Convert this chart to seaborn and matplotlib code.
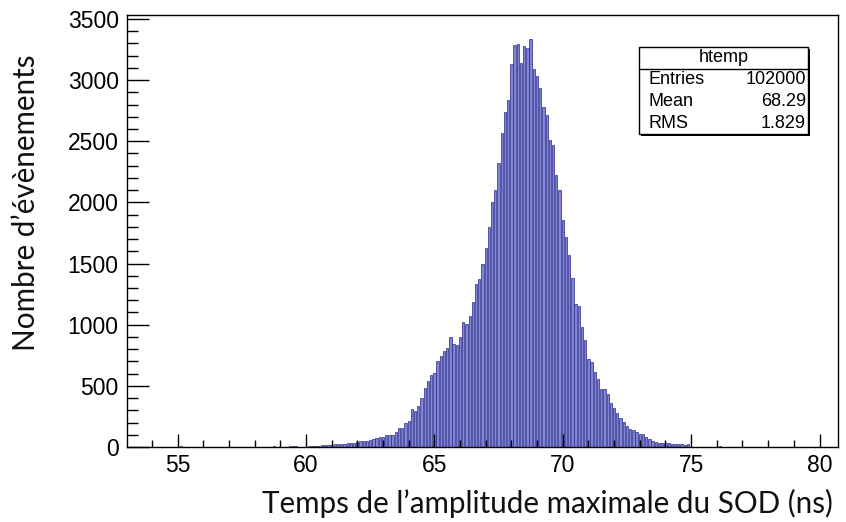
import numpy as np
import pandas as pd
import seaborn as sns
import matplotlib.pyplot as plt
from matplotlib.patches import Rectangle
from matplotlib.ticker import MultipleLocator

sns.set_theme(style="ticks")
plt.rcParams['font.family'] = ['Liberation Sans', 'DejaVu Sans']
plt.rcParams['text.color'] = 'black'
plt.rcParams['xtick.color'] = 'black'
plt.rcParams['ytick.color'] = 'black'

# ---- data ----
bin_width = 0.125
first_center = 58.75
counts = [
    8, 0, 0, 0, 0, 8, 8, 8, 0, 0, 0, 10, 12, 12, 12, 14, 14, 16, 18,
    25, 26, 27, 28, 30, 32, 36, 42, 46, 48, 52, 55, 62, 72, 78, 85, 98, 98, 98,
    125, 157, 157, 193, 212, 307, 293, 334, 401, 483, 537, 591, 608, 700, 743,
    784, 808, 898, 844, 838, 898, 1020, 1006, 1074, 1183, 1332, 1373, 1500,
    1625, 1801, 2005, 2100, 2322,
    2566, 2737, 2837, 3131, 3285, 3293, 3143, 3280, 3266, 3334, 3090, 3035,
    2937, 2783, 2715, 2512, 2471, 2227, 2100, 1855, 1717, 1568, 1378, 1169,
    1155, 979, 871, 722, 694, 613, 559, 478, 472, 437, 361, 315,
    280, 240, 205, 175, 145, 138, 125, 105, 110, 84, 63, 51, 40, 35, 35, 33,
    30, 28, 25, 22, 24, 20, 22,
]
outlier_x = [55.125, 76.125]
outlier_n = [8, 8]

x_major = [55, 60, 65, 70, 75, 80]
y_major = [0, 500, 1000, 1500, 2000, 2500, 3000, 3500]

stats_title = "htemp"
stats_names = ["Entries", "Mean", "RMS"]
stats_values = ["102000", "68.29", "1.829"]

xlabel = "Temps de l’amplitude maximale du SOD (ns)"
ylabel = "Nombre d’évènements"

# ---- build table ----
centers = list(first_center + bin_width * np.arange(len(counts))) + outlier_x
weights = list(counts) + outlier_n
df = pd.DataFrame({"t": centers, "n": weights})

W, H = 846, 522
fig = plt.figure(figsize=(W / 100, H / 100), dpi=100)
ax = fig.add_axes([127 / W, 1 - 447 / H, (838 - 127) / W, (447 - 15) / H])

sns.histplot(data=df, x="t", weights="n", binwidth=bin_width,
             binrange=(52.9375, 80.8125), ax=ax,
             color="#8084d2", edgecolor="#262a8c", linewidth=0.5,
             alpha=1.0, shrink=0.72)

ax.set_xlim(53.03, 80.72)
ax.set_ylim(0, 3532)
ax.set_axisbelow(False)
ax.set_xticks(x_major)
ax.set_xticklabels([str(v) for v in x_major])
ax.set_yticks(y_major)
ax.set_yticklabels([str(v) for v in y_major])
ax.xaxis.set_minor_locator(MultipleLocator(1))
ax.yaxis.set_minor_locator(MultipleLocator(100))
ax.tick_params(axis='x', which='major', direction='in', length=9.5, width=1,
               labelsize=16.5, pad=5, color='black', labelcolor='black')
ax.tick_params(axis='x', which='minor', direction='in', length=4.8, width=1, color='black')
ax.tick_params(axis='y', which='major', direction='in', length=16, width=1,
               labelsize=16.5, pad=6, color='black', labelcolor='black')
ax.tick_params(axis='y', which='minor', direction='in', length=8, width=1, color='black')
for s in ax.spines.values():
    s.set_visible(True)
    s.set_color('black')
    s.set_linewidth(1.0)
ax.set_xlabel("")
ax.set_ylabel("")

fig.text(833 / W, 1 - 503 / H, xlabel, ha='right', va='center',
         fontsize=21.3, family=['Lato', 'DejaVu Sans'], color='#111111')
fig.text(26 / W, 1 - 203 / H, ylabel, ha='center', va='center', rotation=90,
         fontsize=21.3, family=['Lato', 'DejaVu Sans'], color='#111111')

# stats box
bx0, by0, bx1, by1 = 639, 47, 808, 134
fig.add_artist(Rectangle(((bx0 + 2) / W, 1 - (by1 + 2) / H), (bx1 - bx0) / W, (by1 - by0) / H,
                         transform=fig.transFigure, facecolor='black', edgecolor='none', zorder=9))
fig.add_artist(Rectangle((bx0 / W, 1 - by1 / H), (bx1 - bx0) / W, (by1 - by0) / H,
                         transform=fig.transFigure, facecolor='white', edgecolor='black',
                         linewidth=1, zorder=10))
fig.add_artist(plt.Line2D([bx0 / W, bx1 / W], [1 - 69 / H, 1 - 69 / H],
                          transform=fig.transFigure, color='black', linewidth=1, zorder=11))
fig.text((bx0 + bx1) / 2 / W, 1 - 58 / H, stats_title, ha='center', va='center',
         fontsize=13, zorder=12, color='black')
for i, (nm, val) in enumerate(zip(stats_names, stats_values)):
    yy = 1 - (80 + 21.7 * i) / H
    fig.text(648 / W, yy, nm, ha='left', va='center', fontsize=13, zorder=12, color='black')
    fig.text(806 / W, yy, val, ha='right', va='center', fontsize=13, zorder=12, color='black')

fig.savefig("out.png", dpi=100)
